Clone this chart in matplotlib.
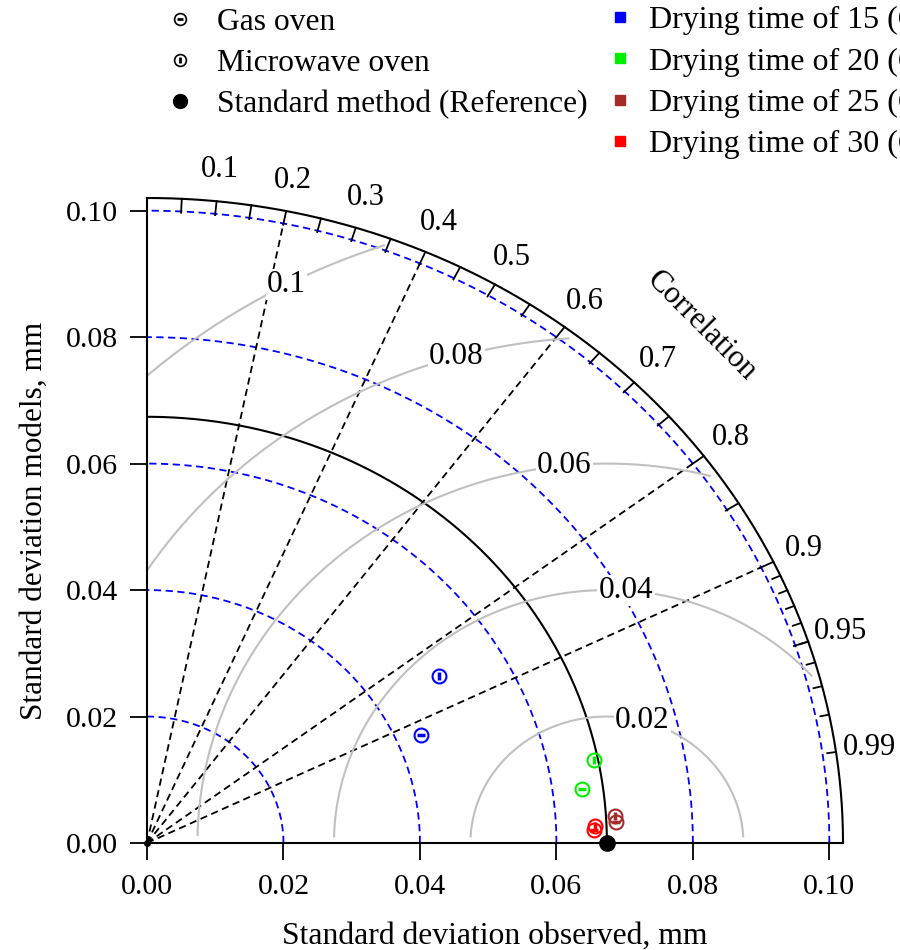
import numpy as np
import matplotlib.pyplot as plt
from matplotlib.lines import Line2D

plt.rcParams['font.family'] = ['Liberation Serif', 'DejaVu Serif']

# %% data
ref_std = 0.0674
drying_times = [15, 20, 25, 30]
std_gas = [0.0436, 0.0643, 0.0688, 0.0656]
corr_gas = [0.920, 0.991, 0.9988, 0.9995]
std_micro = [0.0503, 0.0668, 0.0687, 0.0657]
corr_micro = [0.851, 0.9806, 0.9980, 0.9992]

std_levels = [0.02, 0.04, 0.06, 0.08, 0.10]
rms_levels = [0.02, 0.04, 0.06, 0.08, 0.10]
rms_label_deg = [75, 86, 96, 106, 118]
corr_rays = [0.2, 0.4, 0.6, 0.8, 0.9]
corr_labels = [0.1, 0.2, 0.3, 0.4, 0.5, 0.6, 0.7, 0.8, 0.9, 0.95, 0.99]

time_colors = ['#0000ff', '#00ee00', '#a52a2a', '#ff0000']

# %% axes
fig = plt.figure(figsize=(9, 9.5), dpi=100)
ax = fig.add_axes([147/900, 1 - 843/950, 696/900, 645/950])
rmax = 0.102
ax.set_xlim(0, rmax)
ax.set_ylim(0, rmax)
ax.spines['top'].set_visible(False)
ax.spines['right'].set_visible(False)
ax.spines['left'].set_linewidth(1.5)
ax.spines['bottom'].set_linewidth(1.5)
ticks = np.arange(0, 0.101, 0.02)
ax.set_xticks(ticks)
ax.set_yticks(ticks)
ax.xaxis.set_major_formatter('{x:.2f}')
ax.yaxis.set_major_formatter('{x:.2f}')
ax.tick_params(direction='out', length=12, width=1.3, labelsize=21.5)
ax.tick_params(axis='x', pad=10)
ax.tick_params(axis='y', pad=9)
ax.set_xlabel('Standard deviation observed, mm', fontsize=22.8, labelpad=16)
ax.set_ylabel('Standard deviation models, mm', fontsize=22.5, labelpad=12)

t = np.linspace(0, np.pi/2, 400)
dash = (0, (4, 2.5))

# std circles
for r in std_levels:
    ax.plot(r*np.cos(t), r*np.sin(t), color='blue', ls=dash, lw=1.3)
ax.plot(ref_std*np.cos(t), ref_std*np.sin(t), color='k', lw=1.5)
ax.plot(rmax*np.cos(t), rmax*np.sin(t), color='k', lw=1.5, clip_on=False)

# correlation rays
for c in corr_rays:
    s = np.sqrt(1 - c**2)
    ax.plot([0, 0.1*c], [0, 0.1*s], color='k', ls=dash, lw=1.3)

# correlation ticks
for c in np.arange(0.05, 0.951, 0.05):
    s = np.sqrt(1 - c**2)
    ax.plot([rmax*c, (rmax - 0.0022)*c], [rmax*s, (rmax - 0.0022)*s],
            color='k', lw=1.3, clip_on=False)
for c in np.arange(0.91, 0.995, 0.01):
    s = np.sqrt(1 - c**2)
    ax.plot([rmax*c, (rmax - 0.0013)*c], [rmax*s, (rmax - 0.0013)*s],
            color='k', lw=1.3, clip_on=False)
for c in corr_labels:
    s = np.sqrt(1 - c**2)
    ax.text(0.107*c, 0.107*s, f'{c:g}', fontsize=22, ha='center',
            va='center', clip_on=False)
ax.text(0.115*np.cos(np.pi/4), 0.1155*np.sin(np.pi/4), 'Correlation',
        fontsize=22.5, rotation=-45, ha='center', va='center',
        rotation_mode='anchor')

# centred RMS circles
tt = np.linspace(0, np.pi, 600)
for r, deg in zip(rms_levels, rms_label_deg):
    x = ref_std + r*np.cos(tt)
    y = r*np.sin(tt)
    keep = (x >= 0) & (np.hypot(x, y) <= 0.101) & (y >= 0.001)
    ax.plot(np.where(keep, x, np.nan), np.where(keep, y, np.nan),
            color='#c0c0c0', lw=1.5)
    a = np.deg2rad(deg)
    ax.text(ref_std + r*np.cos(a), r*np.sin(a), f'{r:g}', fontsize=22.5,
            ha='center', va='center',
            bbox=dict(facecolor='white', edgecolor='none', pad=1))

# %% points
for i, col in enumerate(time_colors):
    for std, corr, bar in [(std_gas[i], corr_gas[i], '_'),
                           (std_micro[i], corr_micro[i], '|')]:
        x = std*corr
        y = std*np.sqrt(1 - corr**2)
        ax.plot(x, y, 'o', mfc='none', mec=col, ms=10, mew=1.5, zorder=5)
        ax.plot(x, y, marker=bar, color=col, ms=6, mew=2.5, zorder=5)
ax.plot(ref_std, 0, 'o', color='k', ms=11, clip_on=False, zorder=6)
ax.plot(0, 0, 'o', color='k', ms=4, clip_on=False, zorder=6)

# %% legends
def circ(bar):
    return (Line2D([], [], ls='none', marker='o', mfc='none', mec='k',
                   ms=8.5, mew=1.2),
            Line2D([], [], ls='none', marker=bar, color='k', ms=5, mew=2))

h1 = [circ('_'), circ('|'),
      Line2D([], [], ls='none', marker='o', color='k', ms=10)]
l1 = ['Gas oven', 'Microwave oven', 'Standard method (Reference)']
fig.legend(h1, l1, loc='upper left', bbox_to_anchor=(164/900, 1 - 8/950),
           frameon=False, fontsize=22.7, handlelength=1.0,
           handletextpad=0.67, borderpad=0, borderaxespad=0,
           labelspacing=0.37)
h2 = [Line2D([], [], ls='none', marker='s', color=c, ms=7)
      for c in time_colors]
l2 = [f'Drying time of {d} (Case)' for d in drying_times]
fig.legend(h2, l2, loc='upper left', bbox_to_anchor=(604/900, 1 - 6/950),
           frameon=False, fontsize=23, handlelength=1.0,
           handletextpad=0.41, borderpad=0, borderaxespad=0,
           labelspacing=0.37)

plt.savefig('out.png', dpi=100)
